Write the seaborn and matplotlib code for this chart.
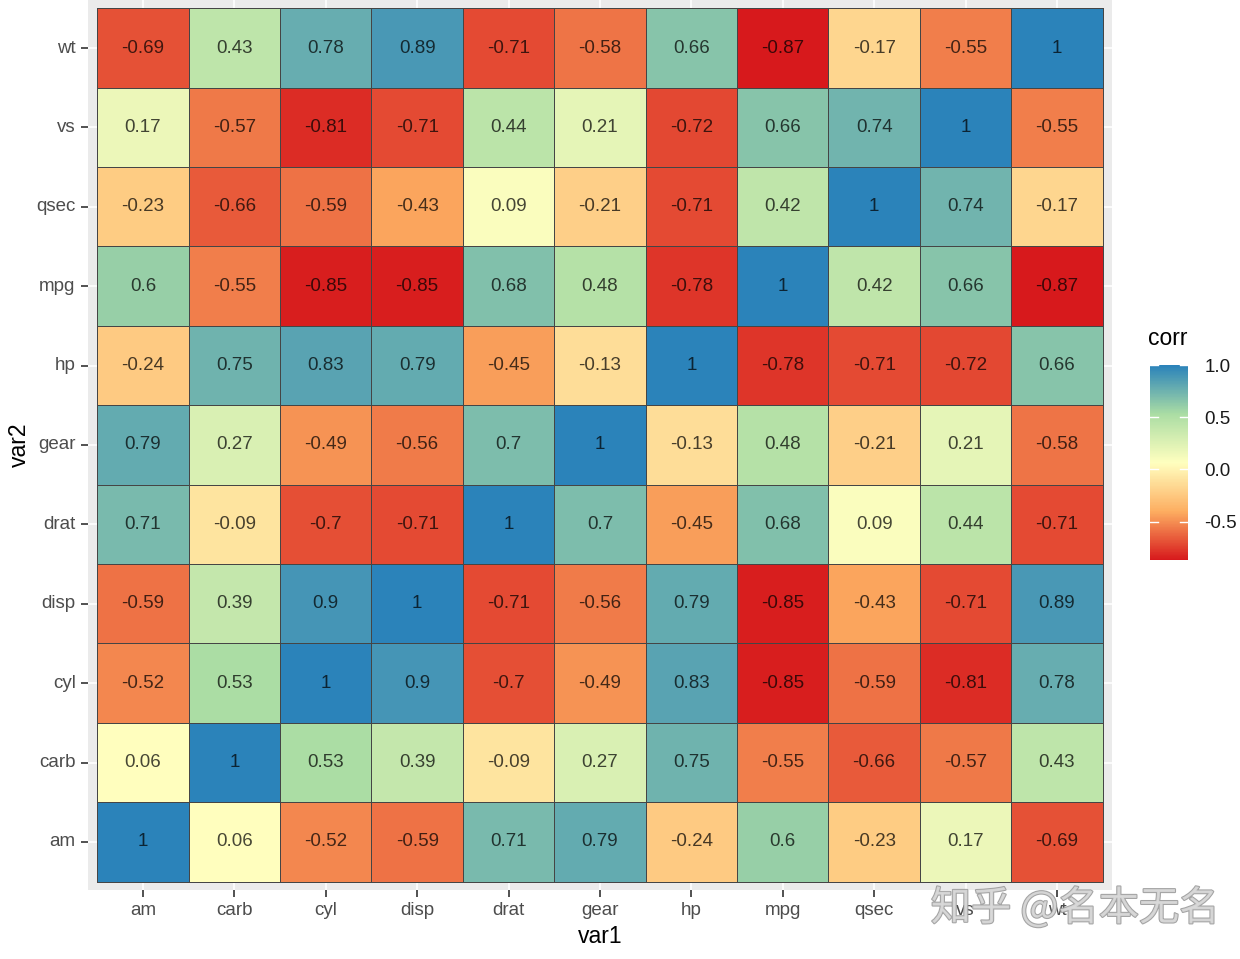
import numpy as np
import pandas as pd
import matplotlib
matplotlib.use("Agg")
import matplotlib.pyplot as plt
import matplotlib.patheffects as pe
from matplotlib.colors import LinearSegmentedColormap
import seaborn as sns

# variables (x order, left to right) and rows (y order, top to bottom)
var1 = ["am", "carb", "cyl", "disp", "drat", "gear", "hp", "mpg", "qsec", "vs", "wt"]
var2 = ["wt", "vs", "qsec", "mpg", "hp", "gear", "drat", "disp", "cyl", "carb", "am"]

row_wt = [-0.69, 0.43, 0.78, 0.89, -0.71, -0.58, 0.66, -0.87, -0.17, -0.55, 1]
row_vs = [0.17, -0.57, -0.81, -0.71, 0.44, 0.21, -0.72, 0.66, 0.74, 1, -0.55]
row_qsec = [-0.23, -0.66, -0.59, -0.43, 0.09, -0.21, -0.71, 0.42, 1, 0.74, -0.17]
row_mpg = [0.6, -0.55, -0.85, -0.85, 0.68, 0.48, -0.78, 1, 0.42, 0.66, -0.87]
row_hp = [-0.24, 0.75, 0.83, 0.79, -0.45, -0.13, 1, -0.78, -0.71, -0.72, 0.66]
row_gear = [0.79, 0.27, -0.49, -0.56, 0.7, 1, -0.13, 0.48, -0.21, 0.21, -0.58]
row_drat = [0.71, -0.09, -0.7, -0.71, 1, 0.7, -0.45, 0.68, 0.09, 0.44, -0.71]
row_disp = [-0.59, 0.39, 0.9, 1, -0.71, -0.56, 0.79, -0.85, -0.43, -0.71, 0.89]
row_cyl = [-0.52, 0.53, 1, 0.9, -0.7, -0.49, 0.83, -0.85, -0.59, -0.81, 0.78]
row_carb = [0.06, 1, 0.53, 0.39, -0.09, 0.27, 0.75, -0.55, -0.66, -0.57, 0.43]
row_am = [1, 0.06, -0.52, -0.59, 0.71, 0.79, -0.24, 0.6, -0.23, 0.17, -0.69]

corr = pd.DataFrame(
    [row_wt, row_vs, row_qsec, row_mpg, row_hp, row_gear,
     row_drat, row_disp, row_cyl, row_carb, row_am],
    index=var2, columns=var1,
)
labels = corr.map(lambda v: f"{v:g}").values

spectral5 = ["#D7191C", "#FDAE61", "#FFFFBF", "#ABDDA4", "#2B83BA"]
cmap = LinearSegmentedColormap.from_list("spec", spectral5)

plt.rcParams["font.family"] = ["Liberation Sans", "DejaVu Sans"]

fig = plt.figure(figsize=(12.4, 9.59), dpi=100)
ax = fig.add_axes([0.0711, 0.0724, 0.8255, 0.9272])
cax = fig.add_axes([0.9274, 0.416, 0.0306, 0.203])

ax.set_facecolor("#EBEBEB")
ax.set_axisbelow(True)

sns.heatmap(
    corr, ax=ax, cbar_ax=cax, cmap=cmap, vmin=-0.87, vmax=1,
    annot=labels, fmt="", linewidths=0.6, linecolor="#454545",
    annot_kws={"color": "black", "alpha": 0.72, "fontsize": 13.5},
)

n = len(var1)
ax.set_xlim(-0.1, n + 0.1)
ax.set_ylim(n + 0.1, -0.1)
ax.grid(True, color="white", linewidth=1.2)
for s in ax.spines.values():
    s.set_visible(False)

ax.set_xticks(np.arange(n) + 0.5)
ax.set_xticklabels(var1, rotation=0)
ax.set_yticks(np.arange(n) + 0.5)
ax.set_yticklabels(var2, rotation=0)
ax.tick_params(axis="both", length=5, width=1.2, color="#333333",
               labelcolor="#4D4D4D", labelsize=13.5, pad=4)
ax.set_xlabel("var1", fontsize=16.5, color="black", labelpad=4)
ax.set_ylabel("var2", fontsize=16.5, color="black", labelpad=4)

# colorbar styled like a ggplot legend
cbar = ax.collections[0].colorbar
cbar.outline.set_visible(False)
cbar.set_ticks([-0.5, 0.0, 0.5, 1.0])
cbar.set_ticklabels(["-0.5", "0.0", "0.5", "1.0"])
cax.tick_params(length=0, labelsize=13.5, labelcolor="#1a1a1a", pad=12)
for t in [-0.5, 0.0, 0.5, 1.0]:
    cax.plot([0, 0.2], [t, t], color="white", lw=1, transform=cax.get_yaxis_transform())
    cax.plot([0.8, 1], [t, t], color="white", lw=1, transform=cax.get_yaxis_transform())
fig.text(0.926, 0.635, "corr", fontsize=16.5, color="black", ha="left", va="bottom")

# watermark
fig.text(0.867, 0.053, "知乎 @名本无名", fontsize=29, ha="center", va="center",
         color="#d9d9d9", family=["Noto Sans CJK SC", "DejaVu Sans"],
         path_effects=[pe.withStroke(linewidth=1.5, foreground="#9a9a9a")], alpha=0.9)

fig.savefig("out.png", dpi=100, facecolor="white")
